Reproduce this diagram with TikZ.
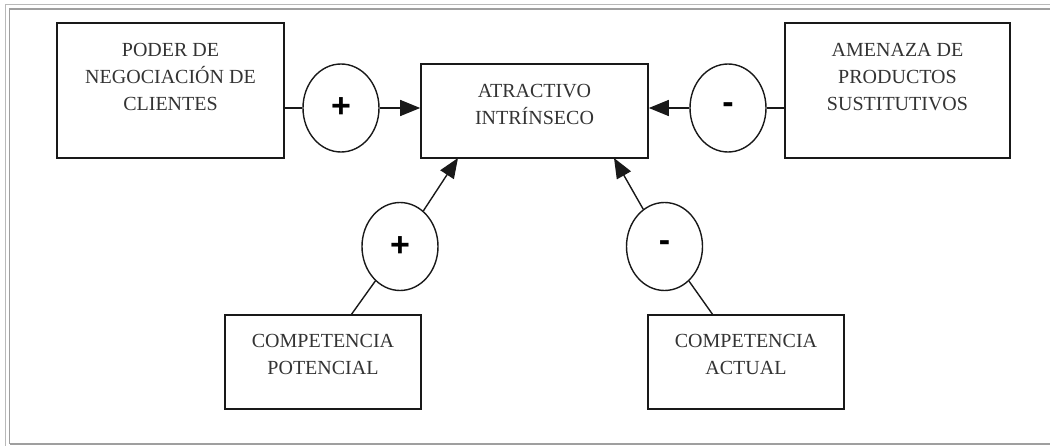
\documentclass[tikz,border=0pt]{standalone}
\usepackage{fontspec}
\setmainfont{Liberation Serif}
\newfontfamily\signfont{Liberation Sans}
\usetikzlibrary{positioning,shapes.geometric,arrows.meta}

\begin{document}
\begin{tikzpicture}[x=1pt,y=-1pt,
  caja/.style={draw=black!90, line width=1.6pt, inner sep=0pt},
  texto/.style={align=center, inner sep=0pt, text=black!80,
    font=\fontsize{20}{27}\selectfont},
  signo/.style={ellipse, draw=black!90, line width=1.4pt, inner sep=0pt,
    minimum width=76pt, minimum height=88pt,
    font=\signfont\bfseries\fontsize{34}{34}\selectfont},
  linea/.style={black!90, line width=1.4pt},
  flecha/.style={linea, -{Triangle[length=20pt,width=16pt]}}]
\useasboundingbox (0,0) rectangle (1050,446);
% marco
\draw[gray!55, line width=1pt] (5,446) -- (5,4.5) -- (1050,4.5);
\draw[gray!75, line width=1.5pt] (9.5,443.5) -- (9.5,9) -- (1050,9);
\draw[gray!75, line width=2pt] (9.5,443.5) -- (1050,443.5);
% cajas
\node[caja, minimum width=227pt, minimum height=135pt] (clientes) at (170.5,90.5) {};
\node[caja, minimum width=227pt, minimum height=94pt] (atractivo) at (534.5,111) {};
\node[caja, minimum width=225pt, minimum height=135pt] (sustitutos) at (897.5,90.5) {};
\node[caja, minimum width=196pt, minimum height=94pt] (potencial) at (323,362) {};
\node[caja, minimum width=196pt, minimum height=94pt] (actual) at (746,362) {};
\node[texto, below=21pt of clientes.north] (clientesTxt) {PODER DE\\NEGOCIACIÓN DE\\CLIENTES};
\node[texto, below=21pt of atractivo.north] (atractivoTxt) {ATRACTIVO\\INTRÍNSECO};
\node[texto, below=21pt of sustitutos.north] (sustitutosTxt) {AMENAZA DE\\PRODUCTOS\\SUSTITUTIVOS};
\node[texto, below=20pt of potencial.north] (potencialTxt) {COMPETENCIA\\POTENCIAL};
\node[texto, below=20pt of actual.north] (actualTxt) {COMPETENCIA\\ACTUAL};
% signos
\node[signo] (masClientes) at (341,108) {+};
\node[signo] (menosSust) at (728,108) {-};
\node[signo] (masPot) at (400,246.5) {+};
\node[signo] (menosAct) at (664.5,246.5) {-};
% conexiones
\draw[linea] (masClientes.west) -- (masClientes.west -| clientes.east);
\draw[flecha] (masClientes.east) -- (masClientes.east -| atractivo.west);
\draw[flecha] (menosSust.west) -- (menosSust.west -| atractivo.east);
\draw[linea] (menosSust.east) -- (menosSust.east -| sustitutos.west);
\coordinate (potBase) at (351,315);
\coordinate (potPunta) at (458,158);
\draw[linea] (potBase) -- (masPot);
\draw[flecha] (masPot) -- (potPunta);
\coordinate (actBase) at (713,315);
\coordinate (actPunta) at (614,158);
\draw[linea] (actBase) -- (menosAct);
\draw[flecha] (menosAct) -- (actPunta);
\end{tikzpicture}
\end{document}
